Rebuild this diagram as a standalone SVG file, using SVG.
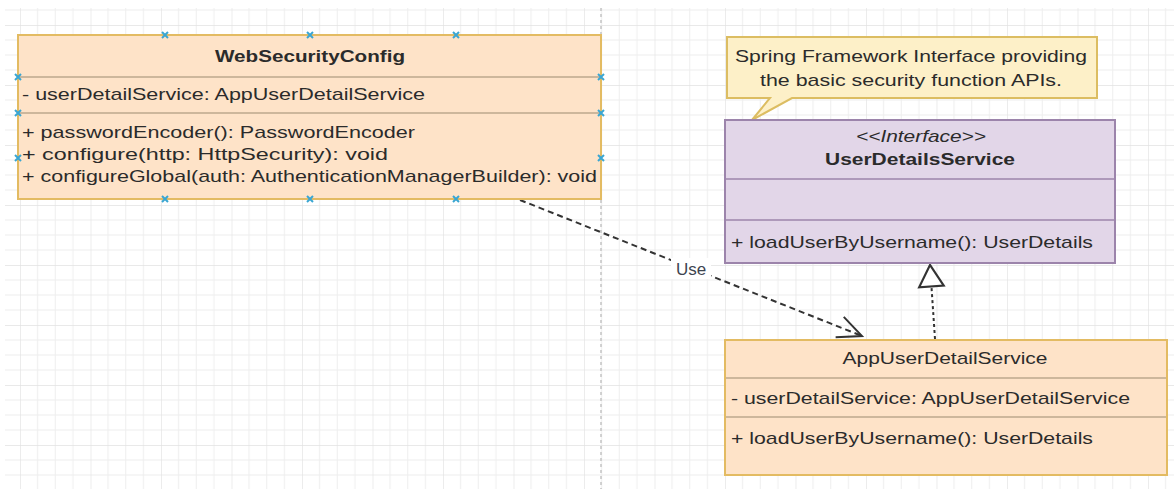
<svg xmlns="http://www.w3.org/2000/svg" xmlns:xlink="http://www.w3.org/1999/xlink" width="1174" height="489" viewBox="0 0 1174 489">
<style>
text{font-family:"Liberation Sans",Arial,sans-serif;font-size:17px;fill:#2b2b2b}
.b{font-weight:bold}
.i{font-style:italic}
.m{text-anchor:middle}
.orange{fill:#fee3c8;stroke:#e3bb62;stroke-width:2}
.purple{fill:#e2d6e8;stroke:#9c84ab;stroke-width:2}
.note{fill:#fdf0c8;stroke:#dcbd62;stroke-width:2}
.sepo{stroke:#bda98e;stroke-width:1.5}
.sepp{stroke:#9c84ab;stroke-width:1.5}
.edge{fill:none;stroke:#333;stroke-width:2}
</style>
<defs>
<pattern id="grid" patternUnits="userSpaceOnUse" x="20" y="25" width="70.5" height="60">
<path d="M17.6,0V60M35.25,0V60M52.9,0V60M0,15H70.5M0,30H70.5M0,45H70.5" stroke="#eeeeee" stroke-width="1" fill="none"/>
<path d="M0,0V60M0,0H70.5" stroke="#e2e2e2" stroke-width="1.3" fill="none"/>
</pattern>
<marker id="open" markerUnits="userSpaceOnUse" markerWidth="30" markerHeight="30" viewBox="-26 -13 30 26" refX="0" refY="0" orient="auto">
<path d="M-24,-11L0,0L-24,11" fill="none" stroke="#333" stroke-width="2"/>
</marker>
<marker id="tri" markerUnits="userSpaceOnUse" markerWidth="30" markerHeight="30" viewBox="-24 -14 28 28" refX="0" refY="0" orient="auto">
<path d="M0,0L-20,-11.5L-20,11.5Z" fill="#fff" stroke="#333" stroke-width="2"/>
</marker>
<path id="xm" d="M-3,-3L3,3M-3,3L3,-3" stroke="#3aa6d2" stroke-width="2"/>
</defs>
<rect x="0" y="0" width="1174" height="489" fill="#fff"/>
<rect x="5" y="8" width="1169" height="481" fill="url(#grid)"/>
<line x1="601" y1="8" x2="601" y2="489" stroke="#c4c4c4" stroke-width="1.5" stroke-dasharray="3 3"/>

<g id="connectors">
<path class="edge" d="M520,200L862,336" stroke-dasharray="6 4" marker-end="url(#open)"/>
<rect x="671" y="258" width="40" height="21" fill="#fff"/>
<text x="691" y="275" class="m" style="fill:#3d4450">Use</text>
<path class="edge" d="M935,339L930,265" stroke-dasharray="3 3" stroke-width="2.5" marker-end="url(#tri)"/>
</g>

<g id="WebSecurityConfig">
<rect class="orange" x="18" y="35" width="583" height="164"/>
<line class="sepo" x1="19" y1="77" x2="600" y2="77"/>
<line class="sepo" x1="19" y1="113" x2="600" y2="113"/>
<text x="310" y="62" class="b m" textLength="190" lengthAdjust="spacingAndGlyphs">WebSecurityConfig</text>
<text x="22" y="100" textLength="403" lengthAdjust="spacingAndGlyphs">- userDetailService: AppUserDetailService</text>
<text x="22" y="138" textLength="393" lengthAdjust="spacingAndGlyphs">+ passwordEncoder(): PasswordEncoder</text>
<text x="22" y="160" textLength="366" lengthAdjust="spacingAndGlyphs">+ configure(http: HttpSecurity): void</text>
<text x="22" y="182" textLength="575" lengthAdjust="spacingAndGlyphs">+ configureGlobal(auth: AuthenticationManagerBuilder): void</text>
<use xlink:href="#xm" x="165" y="35"/><use xlink:href="#xm" x="310" y="35"/><use xlink:href="#xm" x="456" y="35"/>
<use xlink:href="#xm" x="165" y="199"/><use xlink:href="#xm" x="310" y="199"/><use xlink:href="#xm" x="456" y="199"/>
<use xlink:href="#xm" x="18" y="77"/><use xlink:href="#xm" x="18" y="113"/><use xlink:href="#xm" x="18" y="158"/>
<use xlink:href="#xm" x="601" y="77"/><use xlink:href="#xm" x="601" y="113"/><use xlink:href="#xm" x="601" y="158"/>
</g>

<g id="note">
<path class="note" d="M727,37H1097V98H792L752,120L770,98H727Z"/>
<text x="911" y="62" class="m" textLength="352" lengthAdjust="spacingAndGlyphs">Spring Framework Interface providing</text>
<text x="911" y="86" class="m" textLength="302" lengthAdjust="spacingAndGlyphs">the basic security function APIs.</text>
</g>

<g id="UserDetailsService">
<rect class="purple" x="725" y="120" width="390" height="143"/>
<line class="sepp" x1="726" y1="179" x2="1114" y2="179"/>
<line class="sepp" x1="726" y1="220" x2="1114" y2="220"/>
<text x="921" y="142" class="i m" textLength="130" lengthAdjust="spacingAndGlyphs">&lt;&lt;Interface&gt;&gt;</text>
<text x="920" y="165" class="b m" textLength="190" lengthAdjust="spacingAndGlyphs">UserDetailsService</text>
<text x="731" y="248" textLength="362" lengthAdjust="spacingAndGlyphs">+ loadUserByUsername(): UserDetails</text>
</g>

<g id="AppUserDetailService">
<rect class="orange" x="725" y="340" width="442" height="135"/>
<line class="sepo" x1="726" y1="378" x2="1166" y2="378"/>
<line class="sepo" x1="726" y1="417" x2="1166" y2="417"/>
<text x="945" y="364" class="m" textLength="205" lengthAdjust="spacingAndGlyphs">AppUserDetailService</text>
<text x="731" y="404" textLength="399" lengthAdjust="spacingAndGlyphs">- userDetailService: AppUserDetailService</text>
<text x="731" y="444" textLength="362" lengthAdjust="spacingAndGlyphs">+ loadUserByUsername(): UserDetails</text>
</g>
</svg>
